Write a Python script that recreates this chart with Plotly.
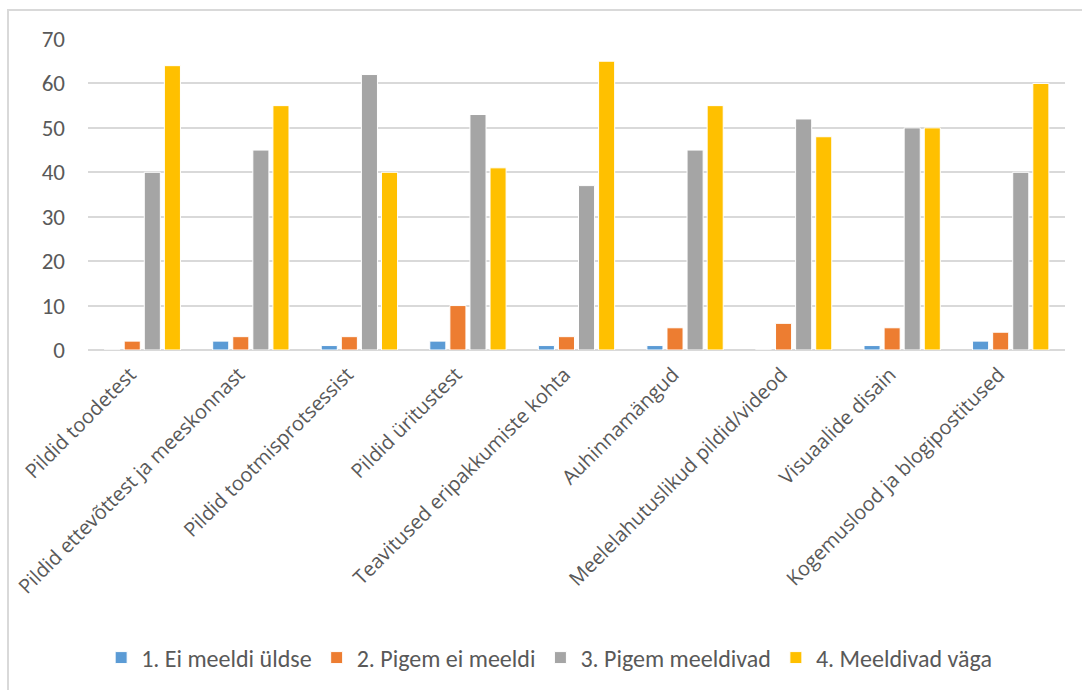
import plotly.graph_objects as go

categories = [
    "Pildid toodetest",
    "Pildid ettevõttest ja meeskonnast",
    "Pildid tootmisprotsessist",
    "Pildid üritustest",
    "Teavitused eripakkumiste kohta",
    "Auhinnamängud",
    "Meelelahutuslikud pildid/videod",
    "Visuaalide disain",
    "Kogemuslood ja blogipostitused",
]

series_names = [
    "1. Ei meeldi üldse",
    "2. Pigem ei meeldi",
    "3. Pigem meeldivad",
    "4. Meeldivad väga",
]

ei_meeldi_uldse = [0, 2, 1, 2, 1, 1, 0, 1, 2]
pigem_ei_meeldi = [2, 3, 3, 10, 3, 5, 6, 5, 4]
pigem_meeldivad = [40, 45, 62, 53, 37, 45, 52, 50, 40]
meeldivad_vaga = [64, 55, 40, 41, 65, 55, 48, 50, 60]

y_ticks = [0, 10, 20, 30, 40, 50, 60, 70]

colors = ["#5B9BD5", "#ED7D31", "#A5A5A5", "#FFC000"]
values = [ei_meeldi_uldse, pigem_ei_meeldi, pigem_meeldivad, meeldivad_vaga]

text_font = "Carlito, Calibri, Lato, sans-serif"
label_font = "Open Sans"
grey_text = "#595959"

fig = go.Figure()
for name, vals, color in zip(series_names, values, colors):
    fig.add_trace(go.Bar(
        x=categories,
        y=vals,
        name=name,
        marker=dict(color=color, line=dict(color="white", width=1)),
    ))

fig.update_layout(
    width=1082,
    height=690,
    paper_bgcolor="white",
    plot_bgcolor="white",
    barmode="group",
    bargap=0.26,
    bargroupgap=0.2,
    margin=dict(l=88, r=17, t=39, b=339),
    font=dict(family=text_font, color=grey_text, size=20),
    legend=dict(
        orientation="h",
        x=0.472,
        xanchor="center",
        y=-0.984,
        yanchor="middle",
        font=dict(family=text_font, size=24, color=grey_text),
        itemwidth=30,
        tracegroupgap=0,
    ),
    shapes=[
        dict(
            type="rect",
            xref="paper", yref="paper",
            x0=-80 / 977, x1=1.1,
            y0=-1.2, y1=(351 - 10) / 312,
            line=dict(color="#D9D9D9", width=2),
            fillcolor="rgba(0,0,0,0)",
            layer="below",
        )
    ],
)

fig.update_xaxes(
    tickangle=-45,
    tickfont=dict(family=label_font, size=20, color=grey_text),
    ticklabelshift=-12,
    ticklabelstandoff=8,
    showgrid=False,
    showline=False,
    ticks="",
)

fig.update_yaxes(
    range=[0, 70],
    tickvals=y_ticks,
    showgrid=True,
    gridcolor="#D9D9D9",
    gridwidth=1.5,
    zeroline=True,
    zerolinecolor="#D9D9D9",
    zerolinewidth=2,
    showline=False,
    ticks="",
    ticklabelstandoff=22,
    tickfont=dict(family=text_font, size=23, color=grey_text),
)

fig.write_html("out.html")
